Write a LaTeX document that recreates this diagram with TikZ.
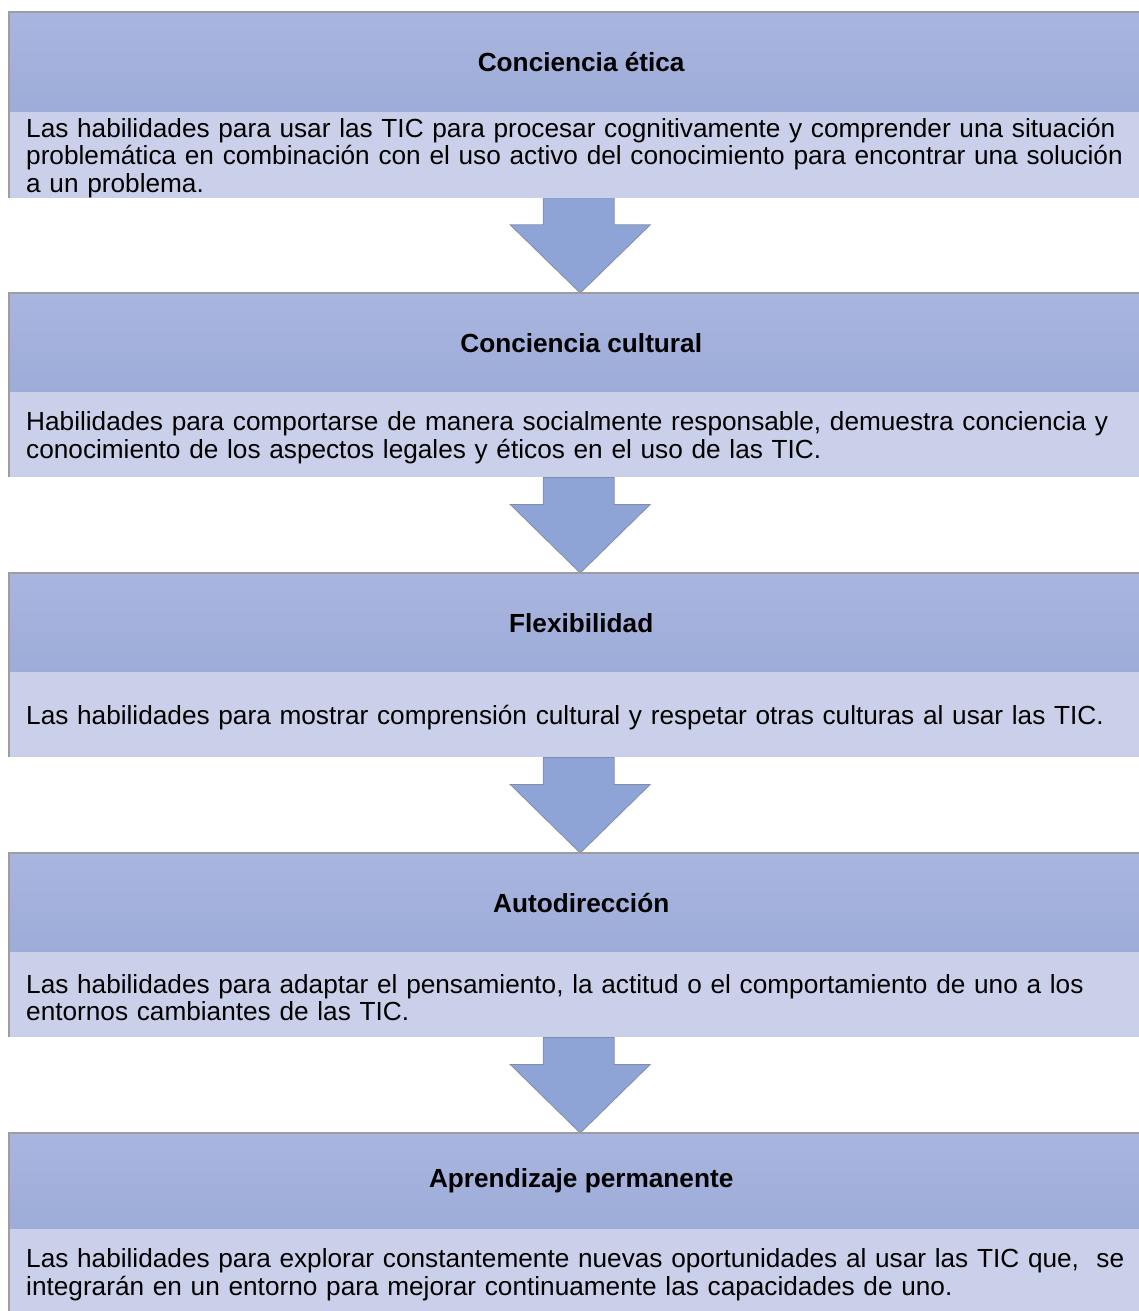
\documentclass[tikz,border=0pt]{standalone}
\usepackage{fontspec}
\setmainfont{Liberation Sans}
\usetikzlibrary{calc,backgrounds}
\definecolor{hdrtop}{RGB}{168,181,223}
\definecolor{hdrbot}{RGB}{157,172,216}
\definecolor{bodyc}{RGB}{202,208,233}
\definecolor{arrc}{RGB}{142,164,215}
\definecolor{edgec}{RGB}{158,158,160}
\definecolor{arredge}{RGB}{130,140,165}
\tikzset{
  hdr/.style={anchor=north west, minimum width=1144pt, minimum height=100pt,
    top color=hdrtop, bottom color=hdrbot, inner sep=0pt,
    font=\fontsize{26.2}{27.5}\selectfont\bfseries},
  bodybox/.style={anchor=north west, minimum width=1144pt, minimum height=85pt,
    fill=bodyc, text width=1118pt, align=left, inner xsep=17pt, inner ysep=0pt,
    font=\fontsize{26.2}{27.5}\selectfont,
    execute at begin node={\rule{0pt}{25pt}}},
  edgeline/.style={draw=edgec, line width=1.6pt},
  flowarr/.style={fill=arrc, draw=arredge, line width=0.8pt, line join=miter}
}
% #1 body node above, #2 its header (for the centre line), #3 next header
\newcommand\flowarrow[3]{%
  \coordinate (base) at (#1.south -| #2.south);
  \draw[flowarr] ($(base)+(-38,0)$) -- ($(base)+(33,0)$)
    -- ($(base)+(33,27)$) -- ($(base)+(69,27)$)
    -- ($(#3.north)+(-1,0)$) -- ($(base)+(-71,27)$)
    -- ($(base)+(-38,27)$) -- cycle;}
\begin{document}
\begin{tikzpicture}[x=1pt,y=-1pt]
\useasboundingbox (0,0) rectangle (1139,1311);

\node[hdr] (h1) at (9,12) {Conciencia ética};
\node[bodybox] (b1) at (9,112) {Las habilidades para usar las TIC para procesar cognitivamente y comprender una situación\\problemática en combinación con el uso activo del conocimiento para encontrar una solución\\a un problema.};

\node[hdr] (h2) at (9,293) {Conciencia cultural};
\node[bodybox] (b2) at (9,392) {Habilidades para comportarse de manera socialmente responsable, demuestra conciencia y\\conocimiento de los aspectos legales y éticos en el uso de las TIC.};

\node[hdr] (h3) at (9,573) {Flexibilidad};
\node[bodybox] (b3) at (9,672) {Las habilidades para mostrar comprensión cultural y respetar otras culturas al usar las TIC.};

\node[hdr] (h4) at (9,853) {Autodirección};
\node[bodybox] (b4) at (9,952) {Las habilidades para adaptar el pensamiento, la actitud o el comportamiento de uno a los\\entornos cambiantes de las TIC.};

\node[hdr, minimum height=96pt] (h5) at (9,1133) {Aprendizaje permanente};
\node[bodybox] (b5) at (9,1229) {Las habilidades para explorar constantemente nuevas oportunidades al usar las TIC que,\ \ se\\integrarán en un entorno para mejorar continuamente las capacidades de uno.};

\foreach \i in {1,...,5} {
  \draw[edgeline] (b\i.south west) -- (h\i.north west) -- (h\i.north east);
}

\begin{scope}[on background layer]
\flowarrow{b1}{h1}{h2}
\flowarrow{b2}{h2}{h3}
\flowarrow{b3}{h3}{h4}
\flowarrow{b4}{h4}{h5}
\end{scope}
\end{tikzpicture}
\end{document}
